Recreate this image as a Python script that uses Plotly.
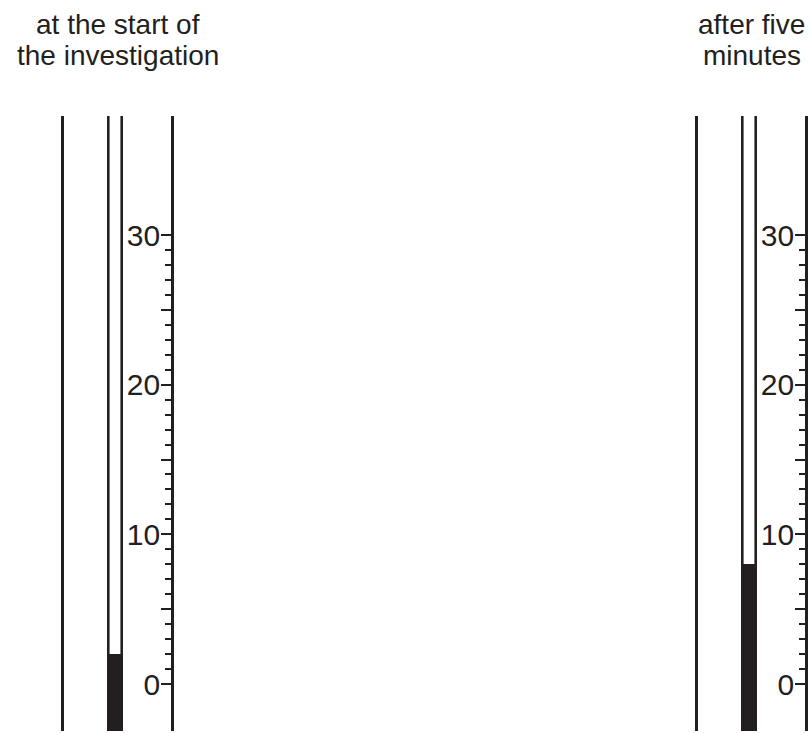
import plotly.graph_objects as go

# ---- data ----
titles = [["at the start of", "the investigation"], ["after five", "minutes"]]
readings = [2, 8]                      # thermometer readings (°C)
label_ticks = [0, 10, 20, 30]
long_ticks = [0, 5, 10, 15, 20, 25, 30]
minor_ticks = [v for v in range(0, 31) if v % 5 != 0]

# ---- layout constants (pixels) ----
W, H = 810, 733
INK = "#231f20"
FONT = "Liberation Sans, Arial, Helvetica"
px_per_unit = (684 - 235) / 30.0
y_top_px, y_bot_px = 116, 731
y_min = -(y_bot_px - 684) / px_per_unit
y_max = (684 - y_top_px) / px_per_unit
panels_px = [(64, 171), (698, 805)]
tube_left_rel, tube_right_rel = 108.3, 121.7
title_line_tops = [7, 38]

fig = go.Figure()
for i, (reading, (x0, x1)) in enumerate(zip(readings, panels_px)):
    n = "" if i == 0 else str(i + 1)
    width = x1 - x0
    tl = (tube_left_rel - 64) / width
    tr = (tube_right_rel - 64) / width
    tc = (tl + tr) / 2
    lw = 2.6 / width
    # mercury column
    fig.add_trace(go.Bar(x=[tc], y=[reading - y_min], base=[y_min],
                         width=[tr - tl + lw], marker=dict(color=INK, line=dict(width=0)),
                         xaxis="x" + n, yaxis="y" + n, showlegend=False, hoverinfo="skip"))
    # tube walls
    for xw in (tl, tr):
        fig.add_trace(go.Scatter(x=[xw, xw], y=[y_min, y_max], mode="lines",
                                 line=dict(color=INK, width=2.6), xaxis="x" + n, yaxis="y" + n,
                                 showlegend=False, hoverinfo="skip"))
    dom_x = [x0 / W, x1 / W]
    dom_y = [(H - y_bot_px) / H, (H - y_top_px) / H]
    fig.update_layout(**{
        "xaxis" + n: dict(domain=dom_x, range=[0, 1], visible=False, fixedrange=True),
        "yaxis" + n: dict(domain=dom_y, range=[y_min, y_max], anchor="x" + n,
                          side="right", showline=True, mirror=True, linecolor=INK, linewidth=2.6,
                          showgrid=False, zeroline=False,
                          tickmode="array", tickvals=long_ticks,
                          ticktext=[str(v) if v in label_ticks else "" for v in long_ticks],
                          ticks="inside", ticklen=10, tickwidth=2.2, tickcolor=INK,
                          ticklabelposition="inside", ticklabelstandoff=4,
                          tickfont=dict(family=FONT, size=30, color=INK),
                          minor=dict(tickmode="array", tickvals=minor_ticks, ticks="inside",
                                     ticklen=6, tickwidth=2.2, tickcolor=INK, showgrid=False),
                          fixedrange=True),
    })
    for line_text, top in zip(titles[i], title_line_tops):
        fig.add_annotation(x=(x0 + x1) / 2 / W, y=1 - top / H, xref="paper", yref="paper",
                           xanchor="center", yanchor="top", text=line_text, showarrow=False,
                           font=dict(family=FONT, size=28, color=INK))

fig.update_layout(width=W, height=H, margin=dict(l=0, r=0, t=0, b=0),
                  paper_bgcolor="white", plot_bgcolor="white", bargap=0)
fig.write_html("out.html", config={"displayModeBar": False},
               post_script="document.body.style.margin='0';")
